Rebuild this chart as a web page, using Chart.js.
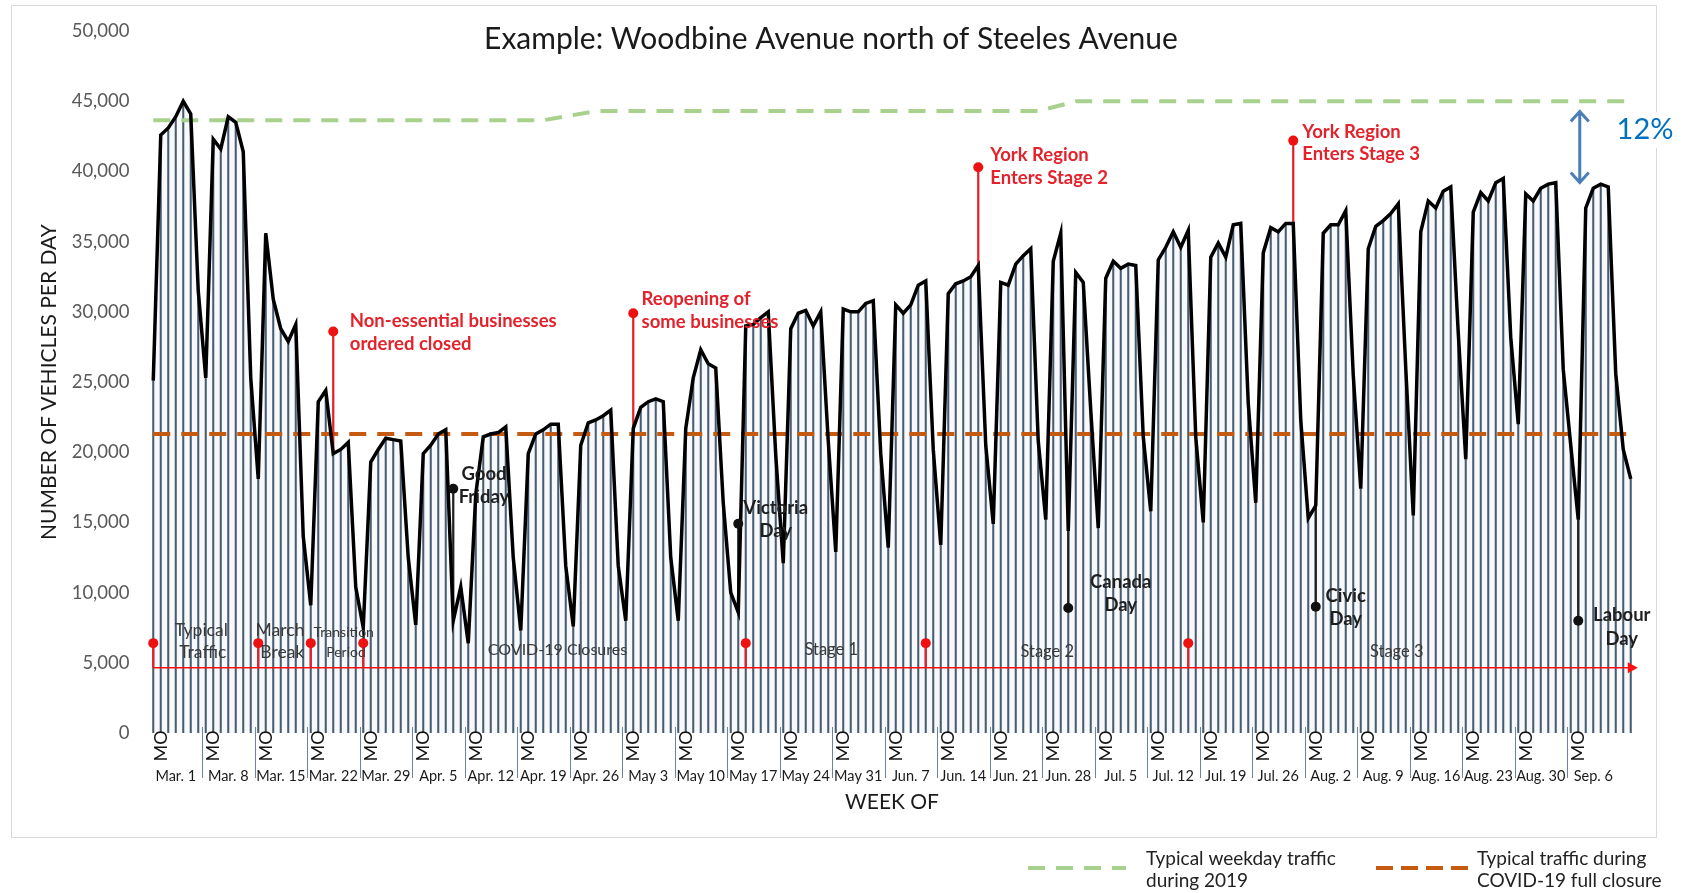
<!DOCTYPE html>
<html>
<head>
<meta charset="utf-8">
<title>Woodbine Avenue north of Steeles Avenue</title>
<script src="https://cdn.jsdelivr.net/npm/chart.js@4.4.1/dist/chart.umd.min.js"></script>
<style>
  html, body { margin: 0; padding: 0; background: #fff; }
  #wrap { width: 1688px; height: 893px; }
</style>
</head>
<body>
<div id="wrap"><canvas id="trafficChart" width="1688" height="893"></canvas></div>
<script>
// week groups on the x axis (each week starts on a Sunday)
const weekLabels = ["Mar. 1", "Mar. 8", "Mar. 15", "Mar. 22", "Mar. 29", "Apr. 5", "Apr. 12", "Apr. 19",
  "Apr. 26", "May 3", "May 10", "May 17", "May 24", "May 31", "Jun. 7", "Jun. 14", "Jun. 21", "Jun. 28",
  "Jul. 5", "Jul. 12", "Jul. 19", "Jul. 26", "Aug. 2", "Aug. 9", "Aug. 16", "Aug. 23", "Aug. 30", "Sep. 6"];
const dayNames = ["SU", "MO", "TU", "WE", "TH", "FR", "SA"];

// daily volume, Mar. 1 to Sep. 14
const dailyVolume = [
  25100, 42600, 43100, 43900, 45000, 44100, 31500,
  25300, 42300, 41600, 43900, 43500, 41400, 25300,
  18100, 35600, 30900, 28800, 27900, 29100, 14000,
  9100, 23600, 24400, 19900, 20200, 20700, 10400,
  7500, 19300, 20200, 21000, 20900, 20800, 12500,
  7700, 19900, 20500, 21300, 21600, 8000, 10400,
  6400, 17000, 21100, 21300, 21400, 21800, 12500,
  7300, 19900, 21300, 21600, 22000, 22000, 11900,
  7600, 20500, 22100, 22300, 22600, 23000, 11900,
  8000, 21700, 23200, 23600, 23800, 23600, 12500,
  8000, 21700, 25300, 27300, 26300, 26000, 16400,
  10000, 8600, 29000, 29100, 29600, 30000, 19800,
  12100, 28800, 29900, 30100, 29000, 30000, 20800,
  12900, 30200, 30000, 30000, 30600, 30800, 19900,
  13200, 30500, 29900, 30500, 31900, 32200, 20200,
  13400, 31300, 32000, 32200, 32500, 33300, 20500,
  14900, 32100, 31900, 33400, 34000, 34500, 20800,
  15200, 33600, 35600, 14400, 32800, 32100, 23000,
  14600, 32400, 33600, 33100, 33400, 33300, 21100,
  15800, 33700, 34600, 35700, 34600, 35800, 21100,
  15000, 33900, 34900, 33900, 36200, 36300, 23500,
  16400, 34200, 36000, 35700, 36300, 36300, 22300,
  15300, 16200, 35600, 36200, 36200, 37200, 25500,
  17400, 34500, 36100, 36500, 37000, 37700, 26000,
  15500, 35700, 37900, 37400, 38600, 38900, 28500,
  19500, 37100, 38500, 37900, 39200, 39500, 28200,
  22000, 38400, 37900, 38800, 39100, 39200, 25900,
  20500, 15200, 37400, 38800, 39100, 38900, 25600,
  20200, 18100
];

// reference lines
const closureLevel = 21300;
const typical2019Days = [0, 52, 59, 118, 123, 197];
const typical2019Values = [43650, 43650, 44300, 44300, 45000, 45000];

// timeline and event markers (red), holidays (black)
const timelineLevel = 4650;
const eventDays = [0, 14, 21, 28, 79, 103, 138, 24, 64, 110, 152];
const eventDot = [6400, 6400, 6400, 6400, 6400, 6400, 6400, 28600, 29900, 40300, 42200];
const eventBase = [4650, 4650, 4650, 4650, 4650, 4650, 4650, 19900, 21700, 33300, 36300];
const holidayDays = [40, 78, 122, 155, 190];
const holidayDot = [17400, 14900, 8900, 9000, 8000];
const holidayBase = [8000, 8600, 14400, 16200, 15200];

const FONT = "Lato, 'Open Sans', sans-serif";
const RED = "#e3222b";

const dayLabels = dailyVolume.map((v, i) => (weekLabels[Math.floor(i / 7)] || "Sep. 13") + " " + dayNames[i % 7]);

function sparseSeries(days, values) {
  const out = dailyVolume.map(() => null);
  days.forEach((d, k) => { out[d] = values[k]; });
  return out;
}

function text(c, str, x, y, size, color, opts) {
  opts = opts || {};
  c.save();
  c.font = (opts.bold ? "bold " : "") + size + "px " + FONT;
  c.fillStyle = color;
  c.textAlign = opts.align || "center";
  c.textBaseline = "middle";
  c.fillText(str, x, y);
  c.restore();
}

const sketchPlugin = {
  id: "sketchPlugin",
  beforeDraw(chart) {
    const c = chart.ctx;
    c.save();
    c.fillStyle = "#fff";
    c.fillRect(0, 0, chart.width, chart.height);
    c.strokeStyle = "#d9d9d9";
    c.lineWidth = 1;
    c.strokeRect(11.5, 5.5, 1645, 832);
    c.restore();
  },
  afterDatasetsDraw(chart) {
    const c = chart.ctx;
    const xs = chart.scales.x;
    const ys = chart.scales.y;
    const px = d => xs.getPixelForValue(d);
    const py = v => ys.getPixelForValue(v);

    // arrow head at end of the timeline
    const ax = px(dailyVolume.length - 1);
    const ay = py(timelineLevel);
    c.save();
    c.fillStyle = "#ff1010";
    c.beginPath();
    c.moveTo(ax - 3, ay - 5.5);
    c.lineTo(ax + 7, ay);
    c.lineTo(ax - 3, ay + 5.5);
    c.closePath();
    c.fill();
    c.restore();

    // week separators, MO ticks and week labels
    c.save();
    c.strokeStyle = "#6b8499";
    c.lineWidth = 1;
    for (let k = 1; k < weekLabels.length; k++) {
      const x = Math.round(px(7 * k - 0.5)) + 0.5;
      c.beginPath();
      c.moveTo(x, ys.bottom - 6);
      c.lineTo(x, ys.bottom + 45);
      c.stroke();
    }
    c.restore();
    dailyVolume.forEach((v, i) => {
      if (i % 7 !== 1 || i > 7 * weekLabels.length) return;
      c.save();
      c.translate(px(i), 746);
      c.rotate(-Math.PI / 2);
      text(c, "MO", 0, 0, 18, "#111");
      c.restore();
    });
    weekLabels.forEach((w, k) => text(c, w, px(7 * k + 3), 776, 14.5, "#1a1a1a"));
    text(c, "WEEK OF", (xs.left + xs.right) / 2, 802, 21, "#1a1a1a");

    // title
    text(c, "Example: Woodbine Avenue north of Steeles Avenue", 831, 39, 30, "#1a1a1a");

    // event notes (red)
    const redNotes = [
      [26.2, 29340, "Non-essential businesses"], [26.2, 27710, "ordered closed"],
      [65.1, 30890, "Reopening of"], [65.1, 29300, "some businesses"],
      [111.6, 41140, "York Region"], [111.6, 39560, "Enters Stage 2"],
      [153.2, 42800, "York Region"], [153.2, 41210, "Enters Stage 3"]
    ];
    redNotes.forEach(n => text(c, n[2], px(n[0]), py(n[1]), 18.5, RED, { bold: true, align: "left" }));

    // holiday notes (black)
    const holidayNotes = [
      [44.1, 18430, "Good"], [44.1, 16810, "Friday"],
      [83.0, 16010, "Victoria"], [83.0, 14410, "Day"],
      [129.0, 10720, "Canada"], [129.0, 9100, "Day"],
      [159.0, 9770, "Civic"], [159.0, 8110, "Day"],
      [195.8, 8390, "Labour"], [195.8, 6700, "Day"]
    ];
    holidayNotes.forEach(n => text(c, n[2], px(n[0]), py(n[1]), 18.5, "#1f1f1f", { bold: true }));

    // timeline notes
    const stageNotes = [
      [6.4, 7300, "Typical", 17.5], [6.6, 5750, "Traffic", 17.5],
      [16.9, 7300, "March", 17.5], [17.2, 5750, "Break", 17.5],
      [25.4, 7150, "Transition", 14], [25.7, 5750, "Period", 14],
      [53.9, 5920, "COVID-19 Closures", 16], [90.4, 5920, "Stage 1", 16.5],
      [119.2, 5820, "Stage 2", 16.5], [165.8, 5820, "Stage 3", 16.5]
    ];
    stageNotes.forEach(n => text(c, n[2], px(n[0]), py(n[1]), n[3], "#3a3a3a"));

    // 12% gap arrow
    const gx = px(190.2);
    const g1 = py(44350);
    const g2 = py(39150);
    c.save();
    c.strokeStyle = "#4a7ebb";
    c.lineWidth = 3;
    c.beginPath();
    c.moveTo(gx, g1 + 2);
    c.lineTo(gx, g2 - 2);
    c.moveTo(gx - 9, g1 + 11);
    c.lineTo(gx, g1 + 1);
    c.lineTo(gx + 9, g1 + 11);
    c.moveTo(gx - 9, g2 - 11);
    c.lineTo(gx, g2 - 1);
    c.lineTo(gx + 9, g2 - 11);
    c.stroke();
    c.fillStyle = "#fff";
    c.fillRect(1612, 112, 66, 36);
    c.restore();
    text(c, "12%", 1645, 130, 29, "#0070c0");

    // legend
    c.save();
    c.lineWidth = 4;
    c.setLineDash([17, 11]);
    c.strokeStyle = "#a9d18e";
    c.beginPath();
    c.moveTo(1028, 868);
    c.lineTo(1126, 868);
    c.stroke();
    c.setLineDash([17, 8]);
    c.strokeStyle = "#c55a11";
    c.beginPath();
    c.moveTo(1376, 868);
    c.lineTo(1470, 868);
    c.stroke();
    c.restore();
    text(c, "Typical weekday traffic", 1146, 859, 19, "#222", { align: "left" });
    text(c, "during 2019", 1146, 881, 19, "#222", { align: "left" });
    text(c, "Typical traffic during", 1477, 859, 19, "#222", { align: "left" });
    text(c, "COVID-19 full closure", 1477, 881, 19, "#222", { align: "left" });
  }
};

const ctx = document.getElementById("trafficChart").getContext("2d");
new Chart(ctx, {
  data: {
    labels: dayLabels,
    datasets: [
      {
        type: "bar",
        label: "Daily bars",
        data: dailyVolume,
        backgroundColor: "#4a5d70",
        barThickness: 1.4,
        grouped: false,
        order: 10
      },
      {
        type: "line",
        label: "Typical traffic during COVID-19 full closure",
        data: sparseSeries([0, dailyVolume.length - 1], [closureLevel, closureLevel]),
        borderColor: "#c55a11",
        borderWidth: 4,
        borderDash: [17, 11],
        pointRadius: 0,
        spanGaps: true,
        order: 8
      },
      {
        type: "line",
        label: "Typical weekday traffic during 2019",
        data: sparseSeries(typical2019Days, typical2019Values),
        borderColor: "#a9d18e",
        borderWidth: 4,
        borderDash: [17, 11],
        pointRadius: 0,
        spanGaps: true,
        order: 8
      },
      {
        type: "line",
        label: "Timeline",
        data: sparseSeries([0, dailyVolume.length - 1], [timelineLevel, timelineLevel]),
        borderColor: "#ff1010",
        borderWidth: 1.6,
        pointRadius: 0,
        spanGaps: true,
        order: 7
      },
      {
        type: "bar",
        label: "Event stems",
        data: sparseSeries(eventDays, eventDays.map((d, k) => [eventBase[k], eventDot[k]])),
        backgroundColor: RED,
        barThickness: 1.6,
        grouped: false,
        order: 6
      },
      {
        type: "bar",
        label: "Holiday stems",
        data: sparseSeries(holidayDays, holidayDays.map((d, k) => [holidayBase[k], holidayDot[k]])),
        backgroundColor: "#222",
        barThickness: 1.6,
        grouped: false,
        order: 6
      },
      {
        type: "line",
        label: "Vehicles per day",
        data: dailyVolume,
        borderColor: "#000",
        borderWidth: 3.5,
        pointRadius: 0,
        tension: 0,
        fill: "origin",
        backgroundColor: "rgba(222, 233, 244, 0.25)",
        order: 3
      },
      {
        type: "line",
        label: "Event dots",
        data: sparseSeries(eventDays, eventDot),
        showLine: false,
        pointRadius: 5,
        pointBorderWidth: 0,
        pointBackgroundColor: "#ee1111",
        order: 1
      },
      {
        type: "line",
        label: "Holiday dots",
        data: sparseSeries(holidayDays, holidayDot),
        showLine: false,
        pointRadius: 5,
        pointBorderWidth: 0,
        pointBackgroundColor: "#111",
        order: 1
      }
    ]
  },
  options: {
    responsive: false,
    animation: false,
    layout: { padding: { top: 24, right: 53.5, bottom: 0, left: 0 } },
    plugins: {
      legend: { display: false },
      tooltip: { enabled: false },
      filler: { drawTime: "beforeDatasetsDraw" }
    },
    scales: {
      x: {
        type: "category",
        offset: true,
        grid: { display: false, drawTicks: false },
        border: { display: false },
        ticks: { display: false },
        afterFit: scale => { scale.height = 160; }
      },
      y: {
        min: 0,
        max: 50000,
        grid: { display: false, drawTicks: false },
        border: { display: false },
        ticks: {
          stepSize: 5000,
          padding: 20,
          color: "#595959",
          font: { family: FONT, size: 18.5 },
          callback: v => v.toLocaleString("en-US")
        },
        title: {
          display: true,
          text: "NUMBER OF VEHICLES PER DAY",
          color: "#1a1a1a",
          font: { family: FONT, size: 21 },
          padding: { top: 37, bottom: 0 }
        },
        afterFit: scale => { scale.width = 149.5; }
      }
    }
  },
  plugins: [sketchPlugin]
});
</script>
</body>
</html>
